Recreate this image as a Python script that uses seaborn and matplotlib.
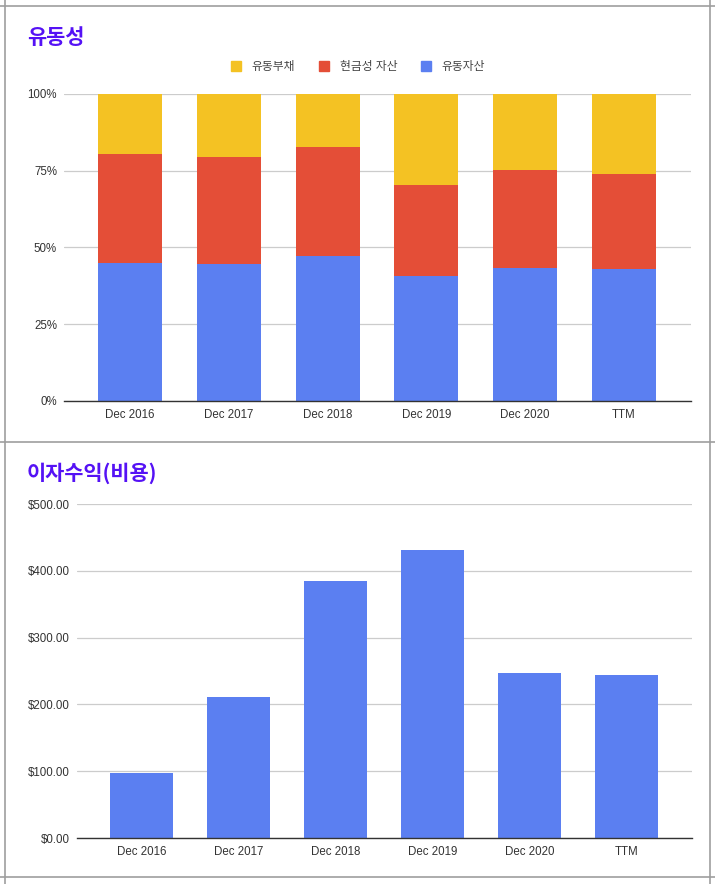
import numpy as np
import pandas as pd
import seaborn as sns
import matplotlib.pyplot as plt
from matplotlib.lines import Line2D
from matplotlib.patches import Patch
from matplotlib.ticker import PercentFormatter, FuncFormatter

periods = ["Dec 2016", "Dec 2017", "Dec 2018", "Dec 2019", "Dec 2020", "TTM"]

# liquidity shares (percent of total)
current_assets = [45.0, 44.7, 47.3, 40.8, 43.4, 43.0]      # 유동자산
cash_assets = [35.4, 34.8, 35.4, 29.6, 31.8, 30.9]         # 현금성 자산
current_liab = [19.6, 20.5, 17.3, 29.6, 24.8, 26.1]        # 유동부채

# interest income (expense)
interest = [97, 211, 385, 431, 247, 244]

BLUE = "#5b7ff1"
RED = "#e44e37"
YELLOW = "#f4c223"
TITLE = "#5512f5"
GRID = "#cccccc"
BORDER = "#9e9e9e"
TXT = "#333333"

sns.set_style("white")
plt.rcParams['font.family'] = ['Liberation Sans', 'Noto Sans CJK KR']

W, H = 715, 884
fig = plt.figure(figsize=(W / 100, H / 100), dpi=100)


def axes_px(left, top, right, bottom):
    return fig.add_axes([left / W, 1 - bottom / H, (right - left) / W, (bottom - top) / H])


def style_axes(ax):
    for s in ["top", "right", "left"]:
        ax.spines[s].set_visible(False)
    ax.spines["bottom"].set_color("#333333")
    ax.spines["bottom"].set_linewidth(1.0)
    ax.yaxis.grid(True, color=GRID, linewidth=0.9)
    ax.set_axisbelow(True)
    ax.tick_params(axis="both", length=0, labelsize=8.3, labelcolor=TXT)
    ax.tick_params(axis="y", pad=5)
    ax.tick_params(axis="x", pad=6)
    ax.set_xlabel("")
    ax.set_ylabel("")
    ax.set_xlim(-0.67, 5.68)


df = pd.DataFrame({
    "period": periods,
    "assets": current_assets,
    "cash": cash_assets,
    "liab": current_liab,
})
df["lvl_cash"] = df["assets"] + df["cash"]
df["lvl_all"] = df["lvl_cash"] + df["liab"]

# --- top: 유동성 (100% stacked) ---
ax1 = axes_px(64, 94, 691, 401)
sns.barplot(data=df, x="period", y="lvl_all", color=YELLOW, saturation=1, width=0.65, ax=ax1)
sns.barplot(data=df, x="period", y="lvl_cash", color=RED, saturation=1, width=0.65, ax=ax1)
sns.barplot(data=df, x="period", y="assets", color=BLUE, saturation=1, width=0.65, ax=ax1)
for p in ax1.patches:
    p.set_linewidth(0)
style_axes(ax1)
ax1.set_ylim(0, 100)
ax1.set_yticks([0, 25, 50, 75, 100])
ax1.yaxis.set_major_formatter(PercentFormatter(decimals=0))

handles = [Patch(color=YELLOW), Patch(color=RED), Patch(color=BLUE)]
fig.legend(handles, ["유동부채", "현금성 자산", "유동자산"], ncol=3, frameon=False,
           loc="center", bbox_to_anchor=(358 / W, 1 - 67 / H), fontsize=8.5,
           handlelength=0.85, handleheight=0.85, handletextpad=0.9, columnspacing=2.0,
           labelcolor="#444444")

fig.text(27 / W, 1 - 37 / H, "유동성", color=TITLE, fontsize=15, fontweight="bold",
         family=["Noto Sans CJK KR"], va="center", ha="left")

# --- bottom: 이자수익(비용) ---
ax2 = axes_px(77, 504, 692, 838)
sns.barplot(x=periods, y=interest, color=BLUE, saturation=1, width=0.65, ax=ax2)
for p in ax2.patches:
    p.set_linewidth(0)
style_axes(ax2)
ax2.set_ylim(0, 500)
ax2.set_yticks(np.arange(0, 501, 100))
ax2.yaxis.set_major_formatter(FuncFormatter(lambda v, _: f"${v:,.2f}"))

fig.text(27 / W, 1 - 473 / H, "이자수익(비용)", color=TITLE, fontsize=15, fontweight="bold",
         family=["Noto Sans CJK KR"], va="center", ha="left")

# panel borders, like the sheet's frame
def hline(y, x0=0, x1=W):
    fig.add_artist(Line2D([x0 / W, x1 / W], [1 - y / H, 1 - y / H], color=BORDER, lw=1.2))


def vline(x, y0=0, y1=H):
    fig.add_artist(Line2D([x / W, x / W], [1 - y0 / H, 1 - y1 / H], color=BORDER, lw=1.2))


hline(6)
hline(442)
hline(877)
vline(5)
vline(710)

fig.savefig("out.png", dpi=100)
